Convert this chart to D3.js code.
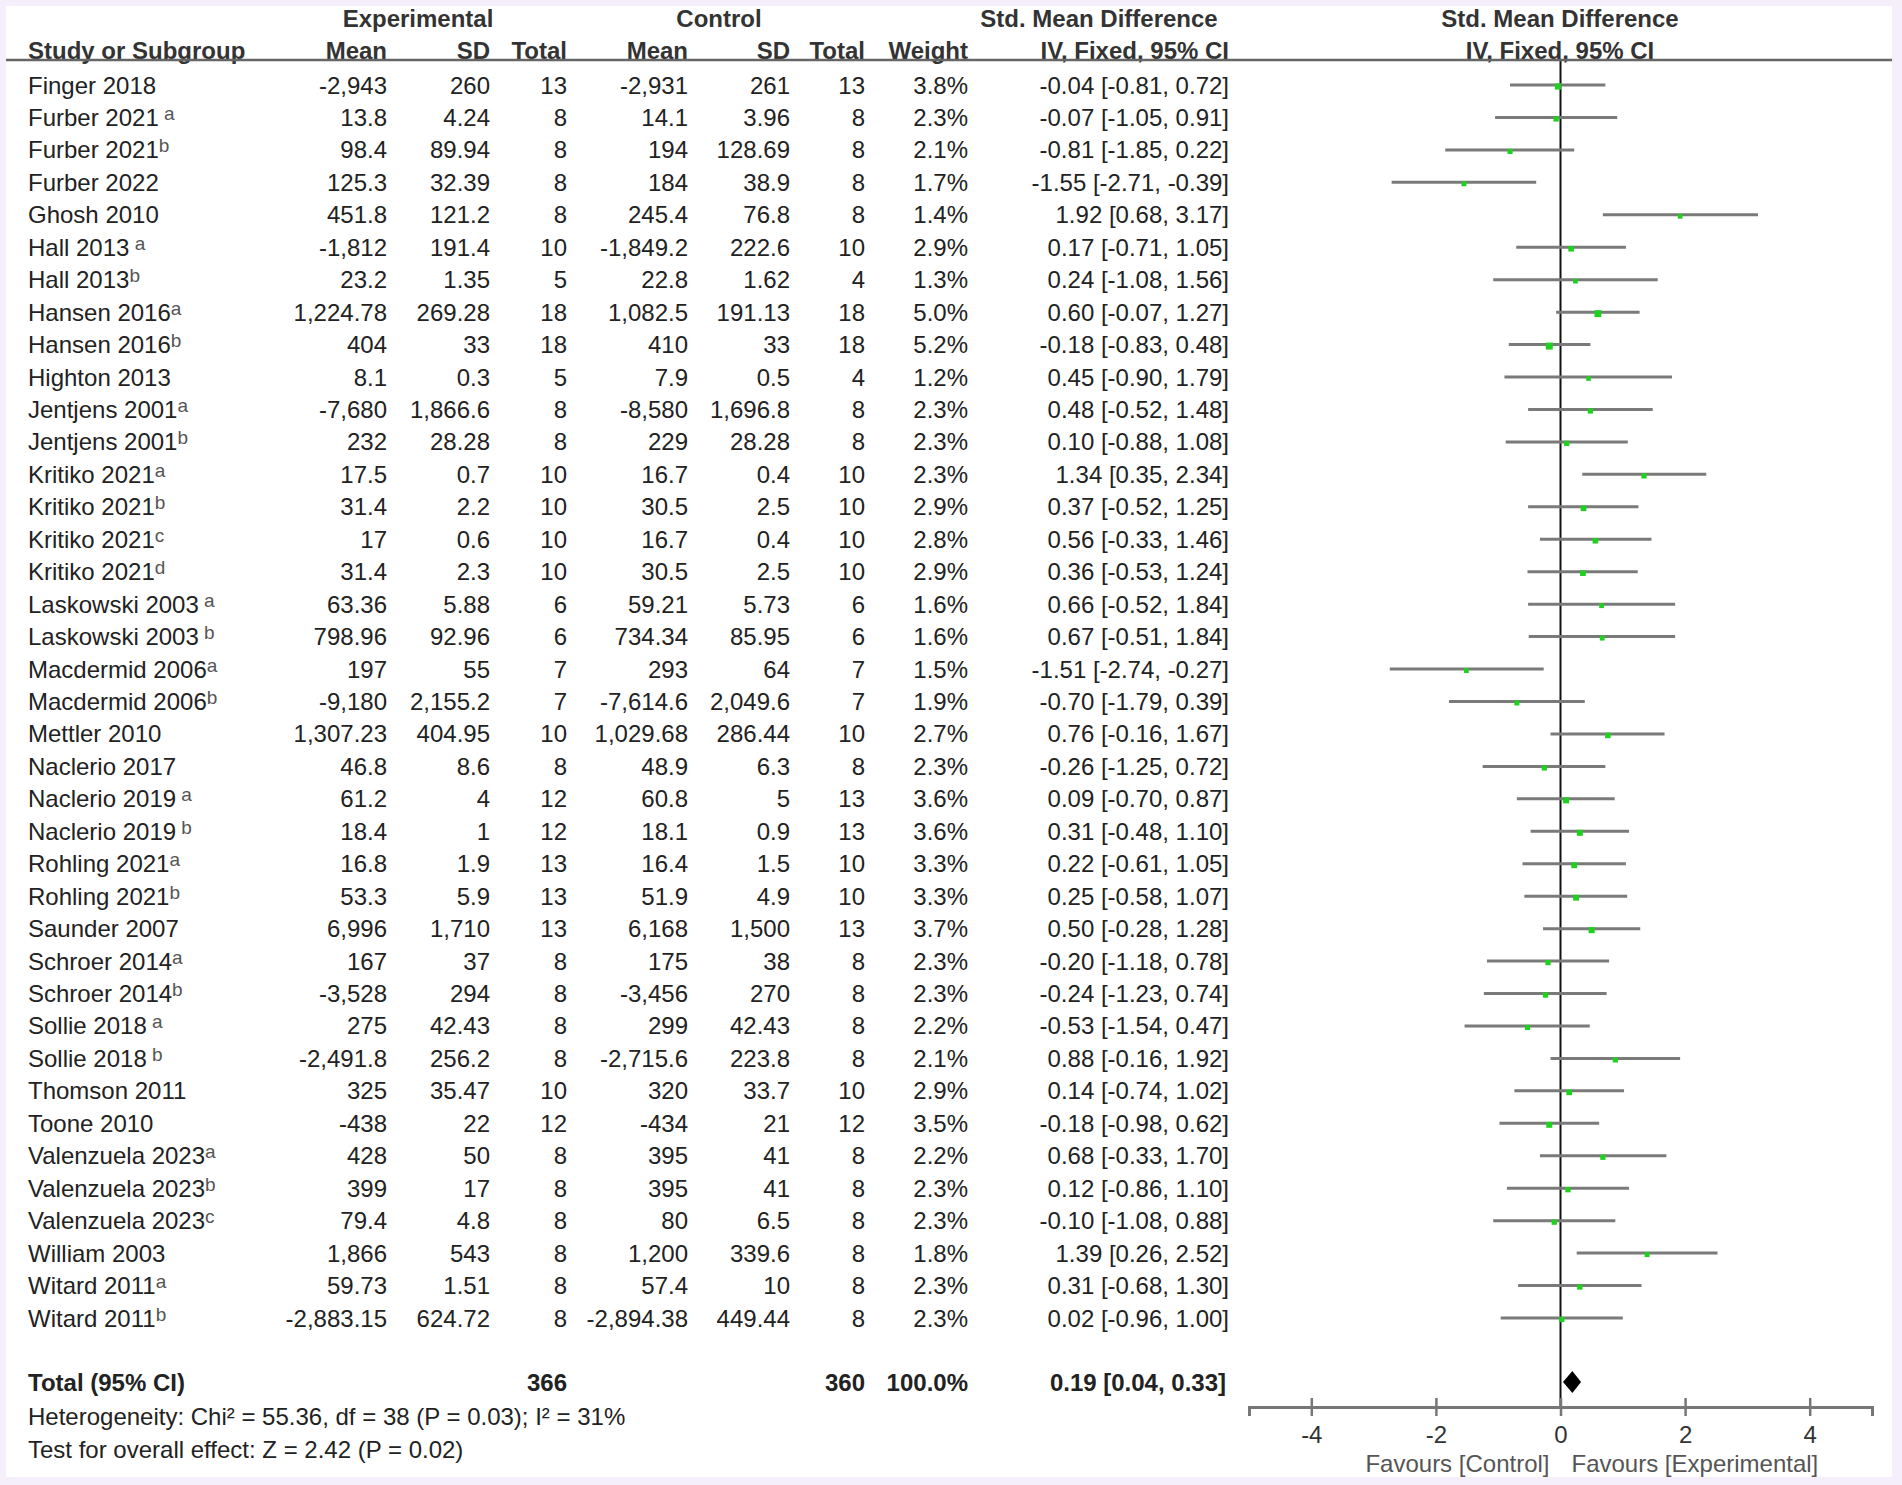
<!DOCTYPE html>
<html>
<head>
<meta charset="utf-8">
<script src="https://cdn.jsdelivr.net/npm/d3@7"></script>
<style>
  body { margin: 0; background: #f4effb; }
  svg { display: block; font-family: "Liberation Sans", Arial, sans-serif; }
  text { white-space: pre; }
</style>
</head>
<body>
<div id="chart"></div>
<script>
// study labels and their footnote letters (leading space where the source has one)
const studies = ["Finger 2018", "Furber 2021", "Furber 2021", "Furber 2022", "Ghosh 2010", "Hall 2013", "Hall 2013",
    "Hansen 2016", "Hansen 2016", "Highton 2013", "Jentjens 2001", "Jentjens 2001", "Kritiko 2021", "Kritiko 2021",
    "Kritiko 2021", "Kritiko 2021", "Laskowski 2003", "Laskowski 2003", "Macdermid 2006", "Macdermid 2006",
    "Mettler 2010", "Naclerio 2017", "Naclerio 2019", "Naclerio 2019", "Rohling 2021", "Rohling 2021", "Saunder 2007",
    "Schroer 2014", "Schroer 2014", "Sollie 2018", "Sollie 2018", "Thomson 2011", "Toone 2010", "Valenzuela 2023",
    "Valenzuela 2023", "Valenzuela 2023", "William 2003", "Witard 2011", "Witard 2011"];
const notes = ["", " a", "b", "", "", " a", "b", "a", "b", "", "a", "b", "a", "b", "c", "d", " a", " b", "a", "b",
    "", "", " a", " b", "a", "b", "", "a", "b", " a", " b", "", "", "a", "b", "c", "", "a", "b"];

const expMean = [-2943, 13.8, 98.4, 125.3, 451.8, -1812, 23.2, 1224.78, 404, 8.1, -7680, 232, 17.5, 31.4, 17, 31.4,
    63.36, 798.96, 197, -9180, 1307.23, 46.8, 61.2, 18.4, 16.8, 53.3, 6996, 167, -3528, 275, -2491.8, 325, -438, 428,
    399, 79.4, 1866, 59.73, -2883.15];
const expSD = [260, 4.24, 89.94, 32.39, 121.2, 191.4, 1.35, 269.28, 33, 0.3, 1866.6, 28.28, 0.7, 2.2, 0.6, 2.3,
    5.88, 92.96, 55, 2155.2, 404.95, 8.6, 4, 1, 1.9, 5.9, 1710, 37, 294, 42.43, 256.2, 35.47, 22, 50, 17, 4.8, 543,
    1.51, 624.72];
const expTotal = [13, 8, 8, 8, 8, 10, 5, 18, 18, 5, 8, 8, 10, 10, 10, 10, 6, 6, 7, 7, 10, 8, 12, 12, 13, 13, 13, 8, 8,
    8, 8, 10, 12, 8, 8, 8, 8, 8, 8];
const ctrlMean = [-2931, 14.1, 194, 184, 245.4, -1849.2, 22.8, 1082.5, 410, 7.9, -8580, 229, 16.7, 30.5, 16.7, 30.5,
    59.21, 734.34, 293, -7614.6, 1029.68, 48.9, 60.8, 18.1, 16.4, 51.9, 6168, 175, -3456, 299, -2715.6, 320, -434, 395,
    395, 80, 1200, 57.4, -2894.38];
const ctrlSD = [261, 3.96, 128.69, 38.9, 76.8, 222.6, 1.62, 191.13, 33, 0.5, 1696.8, 28.28, 0.4, 2.5, 0.4, 2.5,
    5.73, 85.95, 64, 2049.6, 286.44, 6.3, 5, 0.9, 1.5, 4.9, 1500, 38, 270, 42.43, 223.8, 33.7, 21, 41, 41, 6.5, 339.6,
    10, 449.44];
const ctrlTotal = [13, 8, 8, 8, 8, 10, 4, 18, 18, 4, 8, 8, 10, 10, 10, 10, 6, 6, 7, 7, 10, 8, 13, 13, 10, 10, 13, 8, 8,
    8, 8, 10, 12, 8, 8, 8, 8, 8, 8];
const weights = [3.8, 2.3, 2.1, 1.7, 1.4, 2.9, 1.3, 5.0, 5.2, 1.2, 2.3, 2.3, 2.3, 2.9, 2.8, 2.9, 1.6, 1.6, 1.5, 1.9,
    2.7, 2.3, 3.6, 3.6, 3.3, 3.3, 3.7, 2.3, 2.3, 2.2, 2.1, 2.9, 3.5, 2.2, 2.3, 2.3, 1.8, 2.3, 2.3];
const smd = [-0.04, -0.07, -0.81, -1.55, 1.92, 0.17, 0.24, 0.60, -0.18, 0.45, 0.48, 0.10, 1.34, 0.37, 0.56, 0.36,
    0.66, 0.67, -1.51, -0.70, 0.76, -0.26, 0.09, 0.31, 0.22, 0.25, 0.50, -0.20, -0.24, -0.53, 0.88, 0.14, -0.18, 0.68,
    0.12, -0.10, 1.39, 0.31, 0.02];
const ciLow = [-0.81, -1.05, -1.85, -2.71, 0.68, -0.71, -1.08, -0.07, -0.83, -0.90, -0.52, -0.88, 0.35, -0.52, -0.33,
    -0.53, -0.52, -0.51, -2.74, -1.79, -0.16, -1.25, -0.70, -0.48, -0.61, -0.58, -0.28, -1.18, -1.23, -1.54, -0.16,
    -0.74, -0.98, -0.33, -0.86, -1.08, 0.26, -0.68, -0.96];
const ciHigh = [0.72, 0.91, 0.22, -0.39, 3.17, 1.05, 1.56, 1.27, 0.48, 1.79, 1.48, 1.08, 2.34, 1.25, 1.46, 1.24,
    1.84, 1.84, -0.27, 0.39, 1.67, 0.72, 0.87, 1.10, 1.05, 1.07, 1.28, 0.78, 0.74, 0.47, 1.92, 1.02, 0.62, 1.70, 1.10,
    0.88, 2.52, 1.30, 1.00];

const totalExp = 366, totalCtrl = 360, totalWeight = 100.0;
const pooled = [0.19, 0.04, 0.33];
const heterogeneity = "Heterogeneity: Chi² = 55.36, df = 38 (P = 0.03); I² = 31%";
const overallTest = "Test for overall effect: Z = 2.42 (P = 0.02)";
const axisTicks = [-4, -2, 0, 2, 4];
const favourLeft = "Favours [Control]", favourRight = "Favours [Experimental]";

const W = 1902, H = 1485;
const fs = 24;
const ink = "#222";

const loc = d3.formatLocale({ decimal: ".", thousands: ",", grouping: [3], currency: ["", ""], minus: "-" });
const num = loc.format(",");

const svg = d3.select("#chart").append("svg")
    .attr("width", W)
    .attr("height", H);

// white panel inside the lavender frame
svg.append("rect")
    .attr("x", 6).attr("y", 6)
    .attr("width", 1886).attr("height", 1471)
    .attr("fill", "#fff");

const n = studies.length;
const y = d3.scalePoint().domain(d3.range(n)).range([85, 1318]);
const base = 8.5; // centre -> baseline
const x = d3.scaleLinear().domain([-5, 5]).range([1249, 1872]);

// table columns: right edge of each numeric column
const cols = [
    { head: "Mean", right: 387, vals: expMean.map(num) },
    { head: "SD", right: 490, vals: expSD.map(num) },
    { head: "Total", right: 567, vals: expTotal.map(String) },
    { head: "Mean", right: 688, vals: ctrlMean.map(num) },
    { head: "SD", right: 790, vals: ctrlSD.map(num) },
    { head: "Total", right: 865, vals: ctrlTotal.map(String) },
    { head: "Weight", right: 968, vals: weights.map(function (d) { return d.toFixed(1) + "%"; }) },
    { head: "IV, Fixed, 95% CI", right: 1229, vals: smd.map(function (d, i) {
        return d.toFixed(2) + " [" + ciLow[i].toFixed(2) + ", " + ciHigh[i].toFixed(2) + "]";
    }) }
];

// headers
const head = svg.append("g")
    .attr("font-size", fs)
    .attr("font-weight", "bold")
    .attr("fill", "#333");

head.append("text").attr("x", 418).attr("y", 26.5).attr("text-anchor", "middle").text("Experimental");
head.append("text").attr("x", 719).attr("y", 26.5).attr("text-anchor", "middle").text("Control");
head.append("text").attr("x", 1099).attr("y", 26.5).attr("text-anchor", "middle").text("Std. Mean Difference");
head.append("text").attr("x", 1560).attr("y", 26.5).attr("text-anchor", "middle").text("Std. Mean Difference");
head.append("text").attr("x", 28).attr("y", 58.5).text("Study or Subgroup");
head.selectAll(".colhead")
    .data(cols)
    .enter().append("text")
    .attr("class", "colhead")
    .attr("x", function (d) { return d.right; })
    .attr("y", 58.5)
    .attr("text-anchor", "end")
    .text(function (d) { return d.head; });
head.append("text").attr("x", 1560).attr("y", 58.5).attr("text-anchor", "middle").text("IV, Fixed, 95% CI");

// zero line
svg.append("line")
    .attr("x1", x(0)).attr("x2", x(0))
    .attr("y1", 60).attr("y2", 1407)
    .attr("stroke", "#111")
    .attr("stroke-width", 2);

svg.append("line")
    .attr("x1", 6).attr("x2", 1892)
    .attr("y1", 60).attr("y2", 60)
    .attr("stroke", "#666")
    .attr("stroke-width", 2.5);

// study rows
const body = svg.append("g").attr("font-size", fs).attr("fill", ink);

const label = body.selectAll(".study")
    .data(studies)
    .enter().append("text")
    .attr("class", "study")
    .attr("x", 28)
    .attr("y", function (d, i) { return y(i) + base; })
    .text(function (d) { return d; });

label.append("tspan")
    .attr("font-size", 19)
    .attr("fill", "#555")
    .attr("dy", -6)
    .text(function (d, i) { return notes[i]; });

cols.forEach(function (c) {
    body.append("g").selectAll("text")
        .data(c.vals)
        .enter().append("text")
        .attr("x", c.right)
        .attr("y", function (d, i) { return y(i) + base; })
        .attr("text-anchor", "end")
        .text(function (d) { return d; });
});

// forest plot
const side = d3.scaleLinear().domain([1, 5.2]).range([4.5, 7]);

svg.append("g").selectAll("line")
    .data(smd)
    .enter().append("line")
    .attr("x1", function (d, i) { return x(ciLow[i]); })
    .attr("x2", function (d, i) { return x(ciHigh[i]); })
    .attr("y1", function (d, i) { return y(i); })
    .attr("y2", function (d, i) { return y(i); })
    .attr("stroke", "#7a7a7a")
    .attr("stroke-width", 3);

svg.append("g").selectAll("rect")
    .data(smd)
    .enter().append("rect")
    .attr("x", function (d, i) { return x(d) - side(weights[i]) / 2; })
    .attr("y", function (d, i) { return y(i) + 1.5 - side(weights[i]) / 2; })
    .attr("width", function (d, i) { return side(weights[i]); })
    .attr("height", function (d, i) { return side(weights[i]); })
    .attr("fill", "#1fd11f");

// total row
const yTot = 1382;
const tot = svg.append("g").attr("font-size", fs).attr("font-weight", "bold").attr("fill", ink);
tot.append("text").attr("x", 28).attr("y", yTot + base).text("Total (95% CI)");
tot.append("text").attr("x", cols[2].right).attr("y", yTot + base).attr("text-anchor", "end").text(totalExp);
tot.append("text").attr("x", cols[5].right).attr("y", yTot + base).attr("text-anchor", "end").text(totalCtrl);
tot.append("text").attr("x", cols[6].right).attr("y", yTot + base).attr("text-anchor", "end").text(totalWeight.toFixed(1) + "%");
tot.append("text").attr("x", cols[7].right - 3).attr("y", yTot + base).attr("text-anchor", "end")
    .text(pooled[0].toFixed(2) + " [" + pooled[1].toFixed(2) + ", " + pooled[2].toFixed(2) + "]");

svg.append("path")
    .attr("d", "M" + x(pooled[1]) + "," + yTot + "L" + x(pooled[0]) + "," + (yTot - 11) +
        "L" + x(pooled[2]) + "," + yTot + "L" + x(pooled[0]) + "," + (yTot + 11) + "Z")
    .attr("fill", "#000");

svg.append("text").attr("x", 28).attr("y", 1416.5 + base).attr("font-size", 24).attr("fill", ink).text(heterogeneity);
svg.append("text").attr("x", 28).attr("y", 1449 + base).attr("font-size", 24).attr("fill", ink).text(overallTest);

// axis
const axis = d3.axisBottom(x)
    .tickValues(axisTicks)
    .tickFormat(loc.format("d"))
    .tickSizeOuter(0)
    .tickSize(9)
    .tickPadding(10);

const gAxis = svg.append("g")
    .attr("transform", "translate(0,1407)")
    .call(axis);

gAxis.select(".domain").attr("stroke", "#777").attr("stroke-width", 3);
gAxis.selectAll(".tick line").attr("y1", -9).attr("stroke", "#777").attr("stroke-width", 2.5);
gAxis.selectAll(".tick text")
    .attr("font-size", fs)
    .attr("font-family", "Liberation Sans, Arial, sans-serif")
    .attr("fill", "#333");

svg.append("text").attr("x", x(0) - 11).attr("y", 1463 + base).attr("text-anchor", "end")
    .attr("font-size", fs).attr("fill", "#555").text(favourLeft);
svg.append("text").attr("x", x(0) + 11).attr("y", 1463 + base)
    .attr("font-size", fs).attr("fill", "#555").text(favourRight);
</script>
</body>
</html>
